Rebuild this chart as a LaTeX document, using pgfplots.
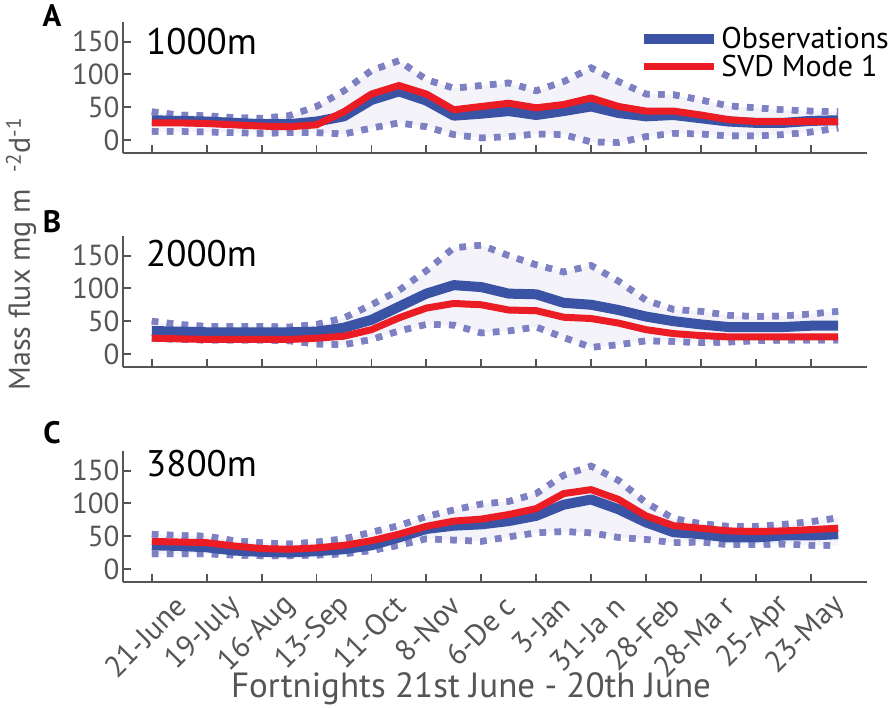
\documentclass[border=0pt]{standalone}
\usepackage{fontspec}
\setmainfont{PT Sans}
\usepackage{pgfplots}
\usepackage{pgfplotstable}
\pgfplotsset{compat=1.18}
\usepgfplotslibrary{fillbetween}

\definecolor{obsblue}{HTML}{3A53A4}
\definecolor{svdred}{HTML}{EC1C24}
\definecolor{dotc}{HTML}{7D80C2}
\definecolor{bandc}{HTML}{F3F3F9}
\definecolor{axc}{HTML}{555555}

\pgfplotstableread{
x obs svd up lo
0 30 26 43 13
1 29 26 38 13
2 28 25 37 12
3 26 23 34 11
4 24 21 33 10
5 24 20 37 11
6 28 23 51 11
7 36 43 75 9
8 61 70 106 18
9 74 83 121 26
10 60 70 92 20
11 37 46 79 8
12 40 51 83 3
13 44 56 87 5
14 38 49 75 9
15 44 54 89 8
16 51 64 110 -3
17 41 51 89 -4
18 36 44 70 5
19 38 44 69 10
20 33 38 61 9
21 28 31 52 6
22 26 28 49 6
23 26 28 46 8
24 29 28 44 12
25 30 28 43 18
}\dataA

\pgfplotstableread{
x obs svd up lo
0 35 24 50 24
1 34 23 45 22
2 33 22 42 21
3 33 22 42 21
4 33 22 42 21
5 33 22 41 20
6 34 24 45 15
7 40 27 55 14
8 52 37 75 22
9 72 55 97 35
10 92 70 127 45
11 105 77 162 44
12 102 75 166 32
13 92 67 150 35
14 91 66 136 41
15 78 56 125 25
16 75 54 135 10
17 67 47 111 14
18 57 37 82 20
19 50 31 68 19
20 45 28 65 17
21 41 26 59 18
22 41 26 57 20
23 41 26 58 21
24 43 26 61 21
25 43 26 65 21
}\dataB

\pgfplotstableread{
x obs svd up lo
0 36 42 53 23
1 35 41 51 23
2 33 40 50 23
3 28 35 43 21
4 26 31 40 20
5 25 30 38 20
6 27 32 41 21
7 30 36 46 23
8 36 43 56 28
9 48 53 66 36
10 61 65 80 46
11 66 73 90 44
12 68 76 99 42
13 73 83 103 49
14 81 92 115 55
15 98 115 143 57
16 106 121 157 55
17 91 106 135 48
18 71 81 101 45
19 56 66 77 40
20 53 62 69 41
21 48 58 65 37
22 48 57 65 37
23 51 58 68 38
24 51 60 72 36
25 53 62 78 36
}\dataC

\pgfplotsset{
  panel/.style={
    scale only axis, width=744pt, height=131pt,
    xmin=-1.05, xmax=26.05, ymin=-20, ymax=180,
    axis lines*=left,
    axis line style={draw=axc, line width=1.8pt},
    every tick/.style={draw=axc, line width=1.8pt},
    major tick length=8pt, tick align=inside,
    ytick={0,50,100,150},
    xtick={0,2,...,24},
    /pgf/number format/assume math mode=true,
    yticklabel style={font=\fontsize{29}{29}\selectfont, text=axc},
    clip=false,
  },
  dotline/.style={dotc, line width=6.5pt, dash pattern=on 6.5pt off 8.5pt, line cap=butt, forget plot},
  obsline/.style={obsblue, line width=10pt, line join=round},
  svdline/.style={svdred, line width=7pt, line join=round},
}

\begin{document}
\begin{tikzpicture}

% Panel A
\begin{axis}[panel, at={(123pt,-153pt)}, anchor=south west, xticklabels={},
  legend style={draw=none, fill=none, at={(axis description cs:1,1)}, anchor=north east,
    xshift=27pt, yshift=-1pt, font=\fontsize{30}{30}\selectfont, text=black,
    row sep=1pt, cells={anchor=west}},
  legend image code/.code={\draw[#1] (0pt,0pt) -- (70pt,0pt);}]
\addplot[name path=upA, dotline] table[x=x, y=up] {\dataA};
\addplot[name path=loA, dotline] table[x=x, y=lo] {\dataA};
\addplot[bandc, forget plot] fill between[of=upA and loA];
\addplot[dotline] table[x=x, y=up] {\dataA};
\addplot[dotline] table[x=x, y=lo] {\dataA};
\addplot[obsline] table[x=x, y=obs] {\dataA};
\addlegendentry{Observations}
\addplot[svdline] table[x=x, y=svd] {\dataA};
\addlegendentry{SVD Mode 1}
\end{axis}

% Panel B
\begin{axis}[panel, at={(123pt,-367pt)}, anchor=south west, xticklabels={}]
\addplot[name path=upB, dotline] table[x=x, y=up] {\dataB};
\addplot[name path=loB, dotline] table[x=x, y=lo] {\dataB};
\addplot[bandc, forget plot] fill between[of=upB and loB];
\addplot[dotline] table[x=x, y=up] {\dataB};
\addplot[dotline] table[x=x, y=lo] {\dataB};
\addplot[obsline] table[x=x, y=obs] {\dataB};
\addplot[svdline] table[x=x, y=svd] {\dataB};
\end{axis}

% Panel C
\begin{axis}[panel, at={(123pt,-582pt)}, anchor=south west,
  xticklabels={21-June,19-July,16-Aug,13-Sep,11-Oct,8-Nov,6-De c,3-Jan,31-Ja n,28-Feb,28-Ma r,25-Apr,23-May},
  xticklabel style={font=\fontsize{30}{30}\selectfont, text=axc, xshift=29pt, yshift=-19pt, rotate=45, anchor=east, inner sep=0pt}]
\addplot[name path=upC, dotline] table[x=x, y=up] {\dataC};
\addplot[name path=loC, dotline] table[x=x, y=lo] {\dataC};
\addplot[bandc, forget plot] fill between[of=upC and loC];
\addplot[dotline] table[x=x, y=up] {\dataC};
\addplot[dotline] table[x=x, y=lo] {\dataC};
\addplot[obsline] table[x=x, y=obs] {\dataC};
\addplot[svdline] table[x=x, y=svd] {\dataC};
\end{axis}

% panel letters
\node[font=\bfseries\fontsize{31}{31}\selectfont, anchor=base] at (52pt,-27pt) {A};
\node[font=\bfseries\fontsize{31}{31}\selectfont, anchor=base] at (52pt,-233pt) {B};
\node[font=\bfseries\fontsize{31}{31}\selectfont, anchor=base] at (52pt,-444pt) {C};

% depth labels
\node[font=\fontsize{37}{37}\selectfont, anchor=base west, inner sep=0pt] at (146pt,-55pt) {1000m};
\node[font=\fontsize{37}{37}\selectfont, anchor=base west, inner sep=0pt] at (146pt,-267pt) {2000m};
\node[font=\fontsize{37}{37}\selectfont, anchor=base west, inner sep=0pt] at (146pt,-477pt) {3800m};

% axis titles
\node[font=\fontsize{35}{35}\selectfont, text=axc, anchor=base] at (471pt,-697pt) {Fortnights 21st June - 20th June};
\node[font=\fontsize{30}{30}\selectfont, text=axc, rotate=90, anchor=base, inner sep=0pt] at (30pt,-254pt) {Mass flux mg m\hspace{16pt}\textsuperscript{-2}d\textsuperscript{-1}};

\pgfresetboundingbox
\useasboundingbox (0,0) rectangle (895pt,-708pt);
\end{tikzpicture}
\end{document}
